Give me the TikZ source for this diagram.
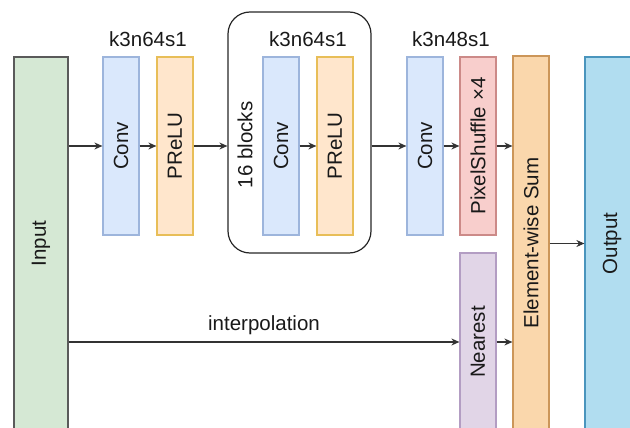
\documentclass[tikz,border=0pt]{standalone}
\usepackage{graphicx}
\usepackage{fontspec}
\setmainfont{Liberation Sans}
\usetikzlibrary{arrows.meta}
\definecolor{inFill}{HTML}{D5E8D4}
\definecolor{inDraw}{HTML}{5A5A5A}
\definecolor{convFill}{HTML}{DAE8FC}
\definecolor{convDraw}{HTML}{9DB5DC}
\definecolor{actFill}{HTML}{FFE6CC}
\definecolor{actDraw}{HTML}{E8BE58}
\definecolor{psFill}{HTML}{F8CECC}
\definecolor{psDraw}{HTML}{CC8A88}
\definecolor{nnFill}{HTML}{E1D5E7}
\definecolor{nnDraw}{HTML}{B39DC3}
\definecolor{sumFill}{HTML}{FAD7AC}
\definecolor{sumDraw}{HTML}{CC9659}
\definecolor{outFill}{HTML}{B1DDF0}
\definecolor{outDraw}{HTML}{4A95BD}
\definecolor{lineC}{HTML}{333333}
\begin{document}
\begin{tikzpicture}[x=1pt,y=-1pt,
  every node/.style={font=\fontsize{20.5}{24}\selectfont, text=black!90, inner sep=0pt},
  blk/.style={rectangle, line width=1.2pt, minimum width=36pt, minimum height=178pt},
  tall/.style={rectangle, line width=1.2pt, minimum height=373pt},
  convbox/.style={blk, draw=convDraw, fill=convFill},
  actbox/.style={blk, draw=actDraw, fill=actFill},
  arr/.style={draw=lineC, line width=1.1pt, -{Stealth[length=8pt,width=7pt]}}
]
\useasboundingbox (0,0) rectangle (630,428);
\clip (0,0) rectangle (630,428);

% big rounded container
\node[draw=black!85, line width=1.2pt, rounded corners=22pt, minimum width=143pt, minimum height=241pt] (blocks) at (299.5,132.5) {};

\node[tall, draw=inDraw, fill=inFill, minimum width=54pt] (input) at (41,243.5) {\rotatebox{90}{Input}};
\node[convbox] (conv1) at (121,146) {\rotatebox{90}{Conv}};
\node[actbox] (prelu1) at (175,146) {\rotatebox{90}{PReLU}};
\node[convbox] (conv2) at (281,146) {\rotatebox{90}{Conv}};
\node[actbox] (prelu2) at (335,146) {\rotatebox{90}{PReLU}};
\node[convbox] (conv3) at (425,146) {\rotatebox{90}{Conv}};
\node[blk, draw=psDraw, fill=psFill] (ps) at (478,146) {\rotatebox{90}{PixelShuffle ×4}};
\node[blk, draw=nnDraw, fill=nnFill] (near) at (478,342) {\rotatebox{90}{Nearest}};
\node[tall, draw=sumDraw, fill=sumFill, minimum width=36pt, minimum height=374pt] (sum) at (531,243) {\rotatebox{90}{Element-wise Sum}};
\node[tall, draw=outDraw, fill=outFill, minimum width=54pt] (output) at (612,243.5) {\rotatebox{90}{Output}};

% labels
\node (l1) at (148,39) {k3n64s1};
\node (l2) at (308,39) {k3n64s1};
\node (l3) at (451,39) {k3n48s1};
\node (nb) at (245,145) {\rotatebox{90}{16 blocks}};
\node (interp) at (264,325) {interpolation};

% connectors
\draw[arr] (input.east |- conv1.west) -- (conv1.west);
\draw[arr] (conv1.east) -- (prelu1.west);
\draw[arr] (prelu1.east) -- (prelu1.east -| blocks.west);
\draw[arr] (conv2.east) -- (prelu2.west);
\draw[arr] (conv3.west -| blocks.east) -- (conv3.west);
\draw[arr] (conv3.east) -- (ps.west);
\draw[arr] (ps.east) -- (ps.east -| sum.west);
\draw[arr] (input.east |- near.west) -- (near.west);
\draw[arr] (near.east) -- (near.east -| sum.west);
\draw[arr] (sum.east |- output.west) -- (output.west);
\end{tikzpicture}
\end{document}
